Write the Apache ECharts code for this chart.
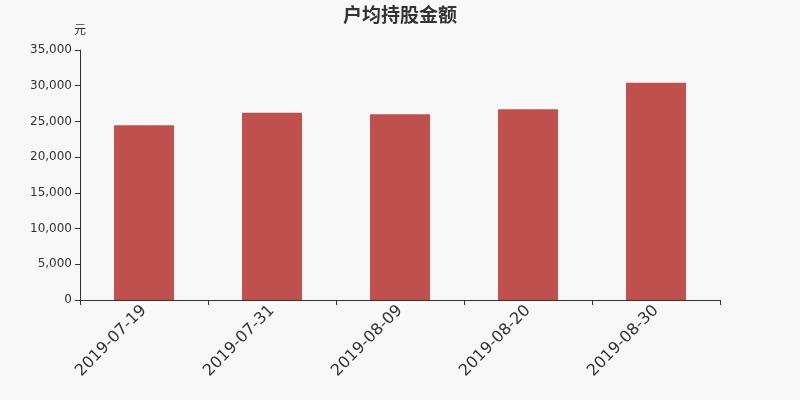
<!DOCTYPE html>
<html><head><meta charset="utf-8">
<script src="https://cdn.jsdelivr.net/npm/echarts@6/dist/echarts.min.js"></script>
<style>html,body{margin:0;padding:0;background:#f8f8f8}#c{width:800px;height:400px}</style>
</head><body><div id="c"></div>
<script>
const categories = ['2019-07-19','2019-07-31','2019-08-09','2019-08-20','2019-08-30'];
const values = [24450, 26200, 26000, 26700, 30400];
const chart = echarts.init(document.getElementById('c'));
chart.setOption({
  backgroundColor: '#f8f8f8',
  animation: false,
  title: { text: '户均持股金额', left: 'center', top: 0, textStyle: { fontSize: 19, fontWeight: 'bold', color: '#333', fontFamily: 'Noto Sans CJK SC' } },
  grid: { left: 80, right: 80, top: 50, bottom: 100 },
  xAxis: { type: 'category', data: categories,
    axisLine: { lineStyle: { color: '#333' } },
    axisTick: { show: true, length: 5, lineStyle: { color: '#333' } },
    axisLabel: { rotate: 45, fontSize: 16, color: '#333', margin: 8, fontFamily: 'DejaVu Sans' } },
  yAxis: { type: 'value', min: 0, max: 35000, interval: 5000, name: '元',
    nameTextStyle: { color: '#333', fontSize: 12, fontFamily: 'Noto Sans CJK SC' },
    nameGap: 15,
    axisLine: { show: true, lineStyle: { color: '#333' } },
    axisTick: { show: true, lineStyle: { color: '#333' } },
    splitLine: { show: false },
    axisLabel: { color: '#333', fontSize: 12, fontFamily: 'DejaVu Sans',
      formatter: v => v.toLocaleString('en-US') } },
  series: [{ type: 'bar', data: values, barWidth: 60, itemStyle: { color: '#c0504e' } }]
});
</script></body></html>
